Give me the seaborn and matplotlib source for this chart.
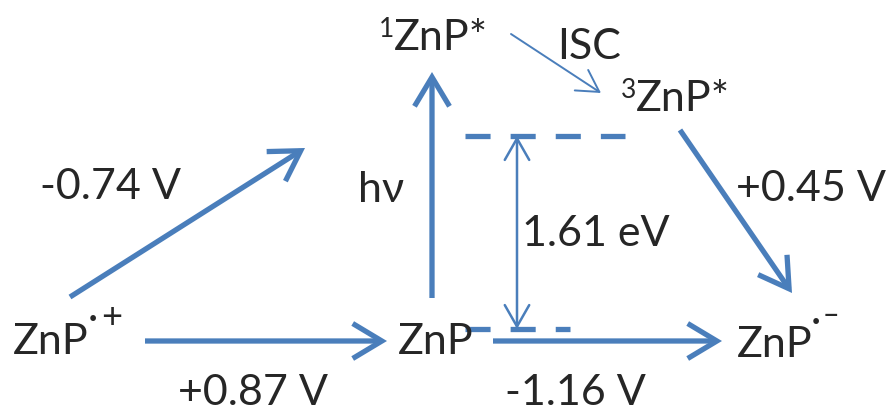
import matplotlib
matplotlib.use("Agg")
import matplotlib.pyplot as plt
import seaborn as sns
import pandas as pd
from matplotlib.patches import FancyArrowPatch

# redox potentials and energy gap shown on the diagram
potential_labels = ["-0.74 V", "+0.87 V", "-1.16 V", "+0.45 V"]
gap_label = "1.61 eV"
excite_label = "hν"
isc_label = "ISC"

# species
species_main = ["ZnP", "ZnP", "ZnP"]
species_dot = ["·", "", "·"]
species_charge = ["+", "", "‒"]
excited_sup = ["1", "3"]
excited_main = ["ZnP*", "ZnP*"]

# arrows (start, end) in picture pixels
thick_arrows = [((70, 297), (305, 148)),
                ((145, 341), (387, 341)),
                ((432, 298), (432, 72)),
                ((493, 341), (722, 341)),
                ((680, 130), (792, 293))]
thin_arrows = [((511, 34), (601, 93))]
gap_arrow = ((517, 136), (517, 329))

# dashed energy levels
level_y = [136, 329]
level_x0 = [465, 465]
level_x1 = [625, 570]

blue = "#4A7EBB"
font = "Lato"
fs = 31

sns.set_style("white")
plt.rcParams["font.family"] = [font, "DejaVu Sans"]

fig = plt.figure(figsize=(8.86, 4.15), dpi=100)
ax = fig.add_axes([0, 0, 1, 1])
ax.set_xlim(0, 886)
ax.set_ylim(415, 0)
ax.axis("off")

levels = pd.DataFrame({
    "x": [v for a, b in zip(level_x0, level_x1) for v in (a, b)],
    "y": [v for y in level_y for v in (y, y)],
    "level": [i for i in range(len(level_y)) for _ in (0, 1)],
})
sns.lineplot(data=levels, x="x", y="y", units="level", estimator=None,
             color=blue, linewidth=3.8, ax=ax, legend=False)
for line in ax.lines:
    line.set_dashes([4.75, 3.8])
    line.set_dash_capstyle("butt")

for (p0, p1) in thick_arrows:
    ax.add_patch(FancyArrowPatch(p0, p1, arrowstyle="->,head_length=0.75,head_width=0.45",
                                 mutation_scale=28, color=blue, linewidth=3.8,
                                 shrinkA=0, shrinkB=0, capstyle="butt", joinstyle="miter"))
for (p0, p1) in thin_arrows:
    ax.add_patch(FancyArrowPatch(p0, p1, arrowstyle="->,head_length=0.7,head_width=0.4",
                                 mutation_scale=22, color=blue, linewidth=1.4,
                                 shrinkA=0, shrinkB=0))
ax.add_patch(FancyArrowPatch(gap_arrow[0], gap_arrow[1],
                             arrowstyle="<->,head_length=0.7,head_width=0.4",
                             mutation_scale=22, color=blue, linewidth=1.8,
                             shrinkA=0, shrinkB=0))

# potentials
pot_pos = [(40, 199), (178, 405), (505, 405), (736, 201)]
for (x, y), s in zip(pot_pos, potential_labels):
    ax.text(x, y, s, fontsize=fs, va="baseline", ha="left")
ax.text(522, 246, gap_label, fontsize=fs, va="baseline", ha="left")
ax.text(358, 202, excite_label, fontsize=fs, va="baseline", ha="left")
ax.text(557, 59, isc_label, fontsize=fs, va="baseline", ha="left")

# ground-state species with dot and charge superscripts
main_pos = [(13, 354), (398, 354), (737, 357)]
dot_pos = [(89, 327), (0, 0), (812, 330)]
charge_pos = [(101, 328), (0, 0), (823, 324)]
for i, m in enumerate(species_main):
    ax.text(*main_pos[i], m, fontsize=fs, va="baseline", ha="left")
    if species_dot[i]:
        ax.text(*dot_pos[i], species_dot[i], fontsize=22, fontweight="bold",
                va="baseline", ha="left")
        ax.text(*charge_pos[i], species_charge[i], fontsize=26 if i == 0 else 22,
                va="baseline", ha="left")

# excited states
exc_pos = [(394, 50), (636, 111)]
for (x, y), sup, m in zip(exc_pos, excited_sup, excited_main):
    ax.text(x - 15, y - 13, sup, fontsize=19, va="baseline", ha="left")
    ax.text(x, y, m, fontsize=fs, va="baseline", ha="left")

fig.savefig("out.png", dpi=100)
